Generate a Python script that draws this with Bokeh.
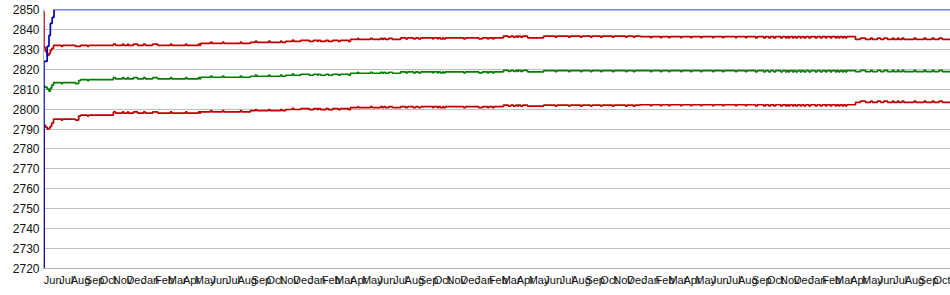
import pandas as pd
from bokeh.plotting import figure
from bokeh.models import FixedTicker, Range1d, ColumnDataSource
from bokeh.embed import file_html
from bokeh.resources import INLINE

START = "2018-06-01"

# ---- level changes (day offset from START) ----
base_day = [0, 1, 4, 8, 12, 15, 18, 22, 77, 153, 344, 453, 530, 563, 672,
            782, 1007, 1060, 1095, 1307, 1778]
base_upper = [2849, 2831, 2829, 2827, 2828, 2829.5, 2830.5, 2832, 2832, 2832,
              2833, 2833.5, 2834, 2834.5, 2835, 2835.8, 2836.6, 2835.8,
              2836.6, 2836.4, 2835.0]
base_est = [2811.3, 2811.3, 2811, 2810, 2809, 2810.5, 2812, 2813.3, 2814.8,
            2815.2, 2816, 2816.5, 2817, 2817.5, 2818, 2818.7, 2819.4, 2818.7,
            2819.3, 2819.3, 2818.8]
base_lower = [2700, 2792, 2791, 2790, 2790.5, 2791.5, 2793, 2795, 2797, 2798,
              2798.6, 2799.2, 2799.8, 2800.2, 2800.7, 2801.2, 2802.0, 2801.5,
              2802.0, 2802.2, 2803.4]

# ---- short-lived moves shared by all three series ----
spike_start = [39, 70, 96, 153, 173, 184, 197, 219, 239, 278, 311, 339, 366,
               392, 431, 464, 493, 519, 545,
               582, 600, 607, 624, 646, 668,
               688, 716, 738, 745, 756,
               793, 810, 821, 852, 863, 869, 876, 920, 953, 972, 983,
               1018, 1029, 1038, 1045,
               1121, 1150, 1176, 1198, 1220, 1246, 1275, 1292,
               1329, 1351, 1369, 1395, 1417, 1439, 1465, 1487, 1515, 1537,
               1559, 1577, 1588, 1599, 1614, 1625, 1631, 1640, 1647, 1657,
               1665, 1676, 1690, 1701, 1712, 1723, 1734, 1741, 1749, 1756,
               1789, 1811, 1826, 1840, 1859, 1870, 1880, 1906, 1928, 1946,
               1961]
spike_end = [42, 81, 99, 158, 176, 186, 206, 223, 250, 281, 314, 342, 369,
             395, 434, 467, 496, 522, 548,
             591, 602, 618, 633, 650, 672,
             690, 720, 742, 749, 764,
             797, 815, 826, 854, 865, 874, 880, 924, 961, 975, 986,
             1023, 1034, 1040, 1049,
             1124, 1153, 1179, 1201, 1223, 1249, 1278, 1295,
             1332, 1354, 1372, 1398, 1420, 1442, 1468, 1490, 1518, 1540,
             1563, 1581, 1592, 1603, 1618, 1628, 1634, 1643, 1651, 1660,
             1669, 1680, 1694, 1705, 1715, 1726, 1737, 1744, 1752, 1759,
             1800, 1815, 1833, 1848, 1862, 1873, 1884, 1910, 1932, 1950,
             1968]
spike_delta = [-0.5, -0.5, -0.5, 0.6, 0.6, 0.6, 0.6, 0.6, 0.6, 0.6, 0.6, 0.6,
               0.6, 0.6, 0.6, 0.6, 0.6, 0.6, 0.6,
               -0.5, -0.5, -0.5, -0.5, -0.5, -0.5,
               0.5, 0.5, 0.5, 0.5, 0.5,
               -0.5, -0.5, -0.5, -0.5, -0.5, -0.5, -0.5, -0.5, -0.5, -0.5,
               -0.5,
               -0.5, -0.5, -0.5, -0.5,
               -0.5, -0.5, -0.5, -0.5, -0.5, -0.5, -0.5, -0.5,
               -0.5, -0.5, -0.5, -0.5, -0.5, -0.5, -0.5, -0.5, -0.5, -0.5,
               -0.6, -0.6, -0.6, -0.6, -0.6, -0.6, -0.6, -0.6, -0.6, -0.6,
               -0.6, -0.6, -0.6, -0.6, -0.6, -0.6, -0.6, -0.6, -0.6, -0.6,
               0.6, 0.6, 0.6, 0.6, 0.6, 0.6, 0.6, 0.6, 0.6, 0.6, 0.6]

# ---- peak series (blue) ----
peak_day = [0, 1, 8, 12, 15, 19, 23, 1990]
peak = [2720, 2824, 2831.5, 2837, 2843, 2846, 2850, 2850]

END_DAY = 1986
# month labels, each written from the start of its month
month_starts = pd.date_range("2018-06-01", "2023-11-01", freq="MS")
tick_labels = [d.strftime("%b") for d in month_starts]
y_ticks = list(range(2720, 2851, 10))

t0 = pd.Timestamp(START)
EPOCH = pd.Timestamp("1970-01-01")
def ms_of_day(d):
    return (t0 + pd.Timedelta(days=d) - EPOCH).total_seconds() * 1000.0

# compose the step series from level changes and short moves
points = sorted(set(base_day) | set(spike_start) | set(spike_end) | {END_DAY})
def level(day, base):
    v = None
    for bd, bv in zip(base_day, base):
        if bd <= day:
            v = bv
    for s, e, dv in zip(spike_start, spike_end, spike_delta):
        if s <= day < e:
            v += dv
    return v

src = ColumnDataSource(dict(
    x=[ms_of_day(d) for d in points],
    upper=[level(d, base_upper) for d in points],
    est=[level(d, base_est) for d in points],
    lower=[level(d, base_lower) for d in points],
))

p = figure(width=950, height=295, output_backend="svg", toolbar_location=None,
           x_range=Range1d(ms_of_day(0), ms_of_day(END_DAY)),
           y_range=Range1d(2720, 2850),
           min_border_left=43, min_border_right=0, min_border_top=9,
           min_border_bottom=27)
p.outline_line_color = None
p.background_fill_color = "white"
p.border_fill_color = "white"

p.step("x", "upper", source=src, mode="after", line_color="#c00000", line_width=1.7)
p.step("x", "est", source=src, mode="after", line_color="#008000", line_width=1.7)
p.step("x", "lower", source=src, mode="after", line_color="#c00000", line_width=1.7)
p.step([ms_of_day(d) for d in peak_day], peak, mode="after",
       line_color="#0000c0", line_width=1.7)

# labels are centred by Bokeh, so anchor each one a little after its month start
label_anchor = [((d + pd.Timedelta(days=20)) - EPOCH).total_seconds() * 1000.0
                for d in month_starts]
p.xaxis.ticker = FixedTicker(ticks=label_anchor)
p.xaxis.major_label_overrides = {t: l for t, l in zip(label_anchor, tick_labels)}
p.xaxis.major_label_text_font = "Liberation Sans"
p.xaxis.major_label_text_font_size = "11px"
p.xaxis.major_label_text_color = "#111111"
p.xaxis.major_tick_out = 0
p.xaxis.major_tick_in = 0
p.xaxis.minor_tick_out = 0
p.xaxis.minor_tick_in = 0
p.xaxis.major_label_standoff = 5
p.xaxis.axis_line_color = "#b0b0b0"

p.yaxis.ticker = FixedTicker(ticks=y_ticks)
p.yaxis.major_label_text_font = "Liberation Sans"
p.yaxis.major_label_text_font_size = "12px"
p.yaxis.major_label_text_color = "#111111"
p.yaxis.major_tick_out = 0
p.yaxis.major_tick_in = 0
p.yaxis.minor_tick_out = 0
p.yaxis.minor_tick_in = 0
p.yaxis.major_label_standoff = 4
p.yaxis.axis_line_color = "#b0b0b0"

p.xgrid.grid_line_color = None
p.ygrid.grid_line_color = "#c0c0c0"
p.ygrid.ticker = FixedTicker(ticks=y_ticks)

open("out.html", "w").write(file_html(p, INLINE))
